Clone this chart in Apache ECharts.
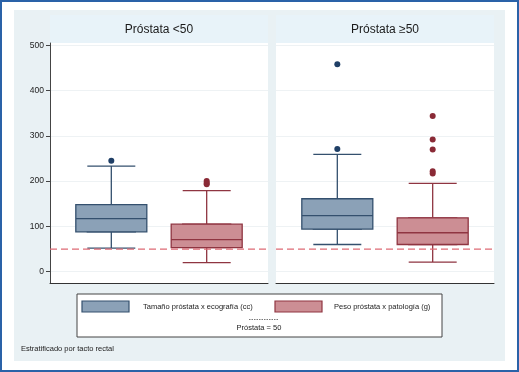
<!DOCTYPE html>
<html>
<head>
<meta charset="utf-8">
<script src="https://cdn.jsdelivr.net/npm/echarts@6/dist/echarts.min.js"></script>
<style>
html,body{margin:0;padding:0;background:#fff;}
#chart{width:519px;height:372px;}
</style>
</head>
<body>
<div id="chart"></div>
<script>
// ---- data ----
const panelTitles = ['Próstata <50', 'Próstata \u226550'];
const seriesNames = ['Tamaño próstata x ecografía (cc)', 'Peso próstata x patología (g)'];
// [lower whisker, Q1, median, Q3, upper whisker]
const ecoLow  = [52, 88, 117, 148, 233];
const patLow  = [20, 53, 71, 105, 179];
const ecoHigh = [60, 94, 124, 161, 259];
const patHigh = [21, 60, 86, 119, 195];
// outliers
const ecoLowOut  = [245];
const patLowOut  = [193, 196, 200];
const ecoHighOut = [271, 458];
const patHighOut = [217, 222, 270, 292, 344];
const refValue = 50;
const refLabel = 'Próstata = 50';
const yTicks = [0, 100, 200, 300, 400, 500];
const note = 'Estratificado por tacto rectal';

// ---- layout / style ----
const FONT = 'Liberation Sans, Arial, sans-serif';
const slots = [4.5, 11.5];           // slot positions on a 0..16 panel axis
const XMIN = 0, XMAX = 16;
const panels = [
  {left: 50, width: 218, eco: ecoLow, pat: patLow, ecoOut: ecoLowOut, patOut: patLowOut},
  {left: 276, width: 218, eco: ecoHigh, pat: patHigh, ecoOut: ecoHighOut, patOut: patHighOut}
];
const TOP = 43, HEIGHT = 240;
const colors = [
  {fill: '#8ba1b7', border: '#34506e', dot: '#1f3f66'},
  {fill: '#cc8e94', border: '#8f3541', dot: '#8a2a36'}
];
const refColor = '#de6b75';

const grid = [], xAxis = [], yAxis = [], series = [];
panels.forEach((p, i) => {
  grid.push({left: p.left, top: TOP, width: p.width, height: HEIGHT,
    show: true, backgroundColor: '#ffffff', borderWidth: 0});
  xAxis.push({type: 'value', gridIndex: i, min: XMIN, max: XMAX, position: 'bottom',
    axisLine: {show: true, onZero: false, lineStyle: {color: '#333', width: 1}},
    axisTick: {show: false}, axisLabel: {show: false}, splitLine: {show: false}});
  xAxis.push({type: 'value', gridIndex: i, min: XMIN, max: XMAX, position: 'bottom',
    axisLine: {show: false}, axisTick: {show: false}, axisLabel: {show: false}, splitLine: {show: false}});
  yAxis.push({type: 'value', gridIndex: i, min: -25, max: 505,
    axisLine: {show: i === 0, lineStyle: {color: '#444', width: 1}},
    axisTick: {show: i === 0, length: 4, customValues: yTicks, lineStyle: {color: '#444'}},
    axisLabel: {show: i === 0, customValues: yTicks, fontSize: 8.5, color: '#222', fontFamily: FONT, margin: 6},
    splitLine: {show: true, lineStyle: {color: '#eef2f4', width: 1}}
  });
  const groups = [p.eco, p.pat];
  // whiskers layer (caps narrower than the box)
  series.push({
    type: 'boxplot', xAxisIndex: i * 2, yAxisIndex: i, boxWidth: [48, 48], z: 2,
    data: groups.map((g, k) => ({value: [slots[k]].concat(g),
      itemStyle: {color: colors[k].fill, borderColor: colors[k].border, borderWidth: 1.3}})),
    emphasis: {disabled: true}, silent: true
  });
  // boxes layer
  series.push({
    type: 'boxplot', xAxisIndex: i * 2 + 1, yAxisIndex: i, boxWidth: [71, 71], z: 3,
    data: groups.map((g, k) => ({value: [slots[k], g[1], g[1], g[2], g[3], g[3]],
      itemStyle: {color: colors[k].fill, borderColor: colors[k].border, borderWidth: 1.3}})),
    emphasis: {disabled: true}, silent: true
  });
  // outliers
  [p.ecoOut, p.patOut].forEach((arr, k) => {
    series.push({
      type: 'scatter', xAxisIndex: i * 2, yAxisIndex: i, z: 4, symbolSize: 6,
      itemStyle: {color: colors[k].dot, opacity: 1},
      data: arr.map(v => [slots[k], v]), silent: true
    });
  });
  // reference line at Próstata = 50
  series.push({
    type: 'line', xAxisIndex: i * 2, yAxisIndex: i, z: 6, symbol: 'none', silent: true,
    lineStyle: {color: refColor, type: [7, 4], width: 1.2},
    data: [[XMIN, refValue], [XMAX, refValue]]
  });
});

const graphic = [
  {type: 'rect', shape: {x: 1, y: 1, width: 517, height: 370},
    style: {fill: '#ffffff', stroke: '#2a62a8', lineWidth: 2}, z: -10},
  {type: 'rect', shape: {x: 14, y: 10, width: 491, height: 351},
    style: {fill: '#e9f1f4'}, z: -9},
  {type: 'rect', shape: {x: 50, y: 15, width: 218, height: 28}, style: {fill: '#e8f3f9'}, z: -8},
  {type: 'rect', shape: {x: 276, y: 15, width: 218, height: 28}, style: {fill: '#e8f3f9'}, z: -8},
  {type: 'text', x: 50 + 109, y: 30, style: {text: panelTitles[0], fontSize: 12, fontFamily: FONT,
    fill: '#1a1a1a', align: 'center', verticalAlign: 'middle'}},
  {type: 'text', x: 276 + 109, y: 30, style: {text: panelTitles[1], fontSize: 12, fontFamily: FONT,
    fill: '#1a1a1a', align: 'center', verticalAlign: 'middle'}},
  {type: 'rect', shape: {x: 77, y: 294, width: 365, height: 43},
    style: {fill: '#ffffff', stroke: '#444', lineWidth: 1}},
  {type: 'rect', shape: {x: 82, y: 301, width: 47, height: 11},
    style: {fill: colors[0].fill, stroke: colors[0].border, lineWidth: 1.2}},
  {type: 'text', x: 143, y: 306.5, style: {text: seriesNames[0], fontSize: 7.5, fontFamily: FONT,
    fill: '#222', verticalAlign: 'middle'}},
  {type: 'rect', shape: {x: 275, y: 301, width: 47, height: 11},
    style: {fill: colors[1].fill, stroke: colors[1].border, lineWidth: 1.2}},
  {type: 'text', x: 334, y: 306.5, style: {text: seriesNames[1], fontSize: 7.5, fontFamily: FONT,
    fill: '#222', verticalAlign: 'middle'}},
  {type: 'line', shape: {x1: 249, y1: 319.5, x2: 279, y2: 319.5},
    style: {stroke: '#555', lineWidth: 0.8, lineDash: [1.5, 1]}},
  {type: 'text', x: 259, y: 327.5, style: {text: refLabel, fontSize: 7.5, fontFamily: FONT,
    fill: '#222', align: 'center', verticalAlign: 'middle'}},
  {type: 'text', x: 21, y: 349, style: {text: note, fontSize: 7.5, fontFamily: FONT,
    fill: '#222', verticalAlign: 'middle'}}
];

const chart = echarts.init(document.getElementById('chart'), null, {renderer: 'canvas'});
chart.setOption({
  animation: false,
  backgroundColor: '#ffffff',
  grid, xAxis, yAxis, series, graphic
});
</script>
</body>
</html>
